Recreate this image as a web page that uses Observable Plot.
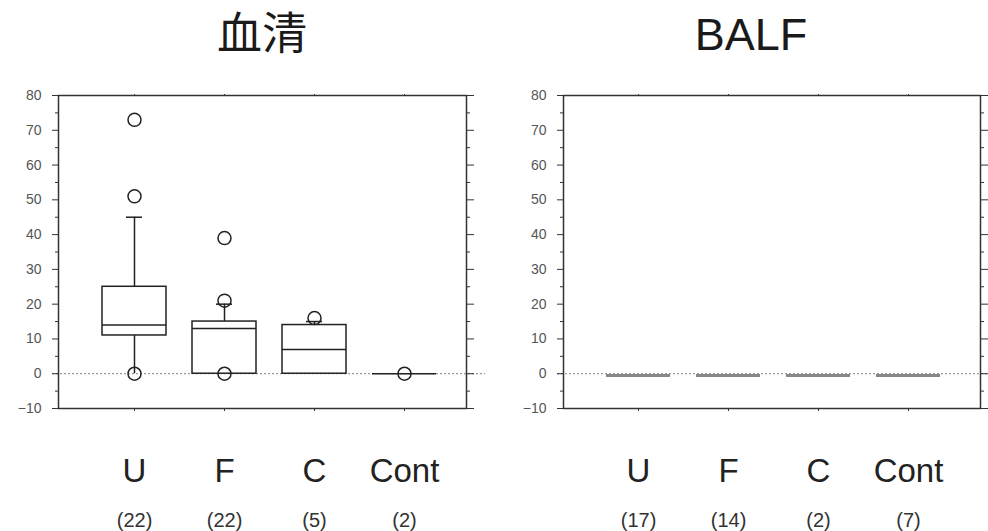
<!DOCTYPE html>
<html>
<head>
<meta charset="utf-8">
<script src="https://cdn.jsdelivr.net/npm/d3@7"></script>
<script src="https://cdn.jsdelivr.net/npm/@observablehq/plot@0.6"></script>
<style>
  html, body { margin: 0; padding: 0; background: #fff; }
  #wrap { display: flex; width: 988px; height: 531px; overflow: hidden; }
  .panel { width: 494px; position: relative; }
  .title { height: 70px; line-height: 70px; text-align: center; font-family: "Liberation Sans", "Noto Sans CJK JP", sans-serif; font-size: 45px; color: #1a1a1a; box-sizing: border-box; }
  svg { display: block; }
</style>
</head>
<body>
<div id="wrap">
  <div class="panel" id="left"><div class="title" style="padding-left:30px">血清</div></div>
  <div class="panel" id="right"><div class="title" style="padding-left:20px">BALF</div></div>
</div>
<script>
// ---- data ----
const categories = ["U", "F", "C", "Cont"];
const serumCounts = [22, 22, 5, 2];
const balfCounts = [17, 14, 2, 7];

const serumQ1     = [11, 0, 0, 0];
const serumMedian = [14, 13, 7, 0];
const serumQ3     = [25, 15, 14, 0];
const serumLow    = [0, 0, 0, 0];
const serumHigh   = [45, 20, 15, 0];

const serumOutlierCats   = ["U", "U", "U", "F", "F", "F", "C", "Cont"];
const serumOutlierValues = [73, 51, 0, 39, 21, 0, 16, 0];

const balfValues = [-0.5, -0.5, -0.5, -0.5];

const yTicks = [-10, 0, 10, 20, 30, 40, 50, 60, 70, 80];
const yMinor = [-5, 5, 15, 25, 35, 45, 55, 65, 75];

// ---- tables ----
const serum = categories.map((c, i) => ({cat: c, q1: serumQ1[i], med: serumMedian[i], q3: serumQ3[i], lo: serumLow[i], hi: serumHigh[i]}));
const serumOut = serumOutlierCats.map((c, i) => ({cat: c, v: serumOutlierValues[i]}));
const balf = categories.map((c, i) => ({cat: c, v: balfValues[i]}));

const INK = "#222";
const blank = () => "";

function frameMarks(counts) {
  return [
    Plot.ruleY([0], {stroke: "#999", strokeDasharray: "2,2", strokeWidth: 1.2, insetLeft: -6, insetRight: -19}),
    Plot.frame({stroke: "#333", strokeWidth: 1.5}),
    // left axis
    Plot.axisY({anchor: "left", label: null, ticks: yTicks, tickSize: 6, tickPadding: 11, fontSize: 14, color: "#555", stroke: "#333", tickFormat: d => d < 0 ? "\u2212" + Math.abs(d) : String(d)}),
    Plot.axisY({anchor: "left", label: null, ticks: yMinor, tickSize: 3, tickFormat: blank, stroke: "#333"}),
    // right axis
    Plot.axisY({anchor: "right", label: null, ticks: yTicks, tickSize: 7, tickFormat: blank, stroke: "#333"}),
    Plot.axisY({anchor: "right", label: null, ticks: yMinor, tickSize: 3, tickFormat: blank, stroke: "#333"}),
    // top and bottom small ticks
    Plot.axisX({anchor: "top", label: null, tickSize: 2, tickFormat: blank, stroke: "#333"}),
    Plot.axisX({anchor: "bottom", label: null, tickSize: 3, tickFormat: blank, stroke: "#333"}),
    // category labels and counts
    Plot.axisX({anchor: "bottom", label: null, tickSize: 0, tickPadding: 50, fontSize: 33, fill: "#222", fontFamily: "Liberation Sans, sans-serif"}),
    Plot.axisX({anchor: "bottom", label: null, tickSize: 0, tickPadding: 104, fontSize: 20, fill: "#333", fontFamily: "Liberation Sans, sans-serif", letterSpacing: 1.5,
      tickFormat: d => "(" + counts[categories.indexOf(d)] + ")"})
  ];
}

function baseOptions(marginLeft, marginRight, range) {
  return {
    width: 494,
    height: 461,
    marginTop: 25,
    marginBottom: 123,
    marginLeft,
    marginRight,
    style: {fontFamily: "Liberation Sans, Arial, sans-serif", background: "white", overflow: "visible"},
    x: {type: "band", domain: categories, range, paddingInner: 0.29, paddingOuter: 0.145, axis: null},
    y: {domain: [-10, 80], axis: null}
  };
}

// ---- serum ----
const serumFrame = frameMarks(serumCounts);
const left = Plot.plot({
  ...baseOptions(58, 28, [89, 449]),
  marks: [
    serumFrame[0],
    Plot.ruleX(serum.filter(d => d.hi > d.q3), {x: "cat", y1: "q3", y2: "hi", stroke: INK, strokeWidth: 1.5}),
    Plot.ruleX(serum.filter(d => d.lo < d.q1), {x: "cat", y1: "lo", y2: "q1", stroke: INK, strokeWidth: 1.5}),
    Plot.tickY(serum.filter(d => d.hi > d.q3), {x: "cat", y: "hi", stroke: INK, strokeWidth: 1.5, insetLeft: 24, insetRight: 24}),
    Plot.barY(serum, {x: "cat", y1: "q1", y2: "q3", fill: "white", stroke: INK, strokeWidth: 1.5}),
    Plot.tickY(serum, {x: "cat", y: "med", stroke: INK, strokeWidth: 1.5}),
    Plot.dot(serumOut, {x: "cat", y: "v", r: 6.5, stroke: INK, fill: "none", strokeWidth: 1.5}),
    ...serumFrame.slice(1)
  ]
});
document.getElementById("left").appendChild(left);

// ---- BALF ----
const balfFrame = frameMarks(balfCounts);
const right = Plot.plot({
  ...baseOptions(69, 8, [99, 459]),
  marks: [
    balfFrame[0],
    Plot.tickY(balf, {x: "cat", y: "v", stroke: "#888", strokeWidth: 3}),
    ...balfFrame.slice(1)
  ]
});
document.getElementById("right").appendChild(right);
</script>
</body>
</html>
